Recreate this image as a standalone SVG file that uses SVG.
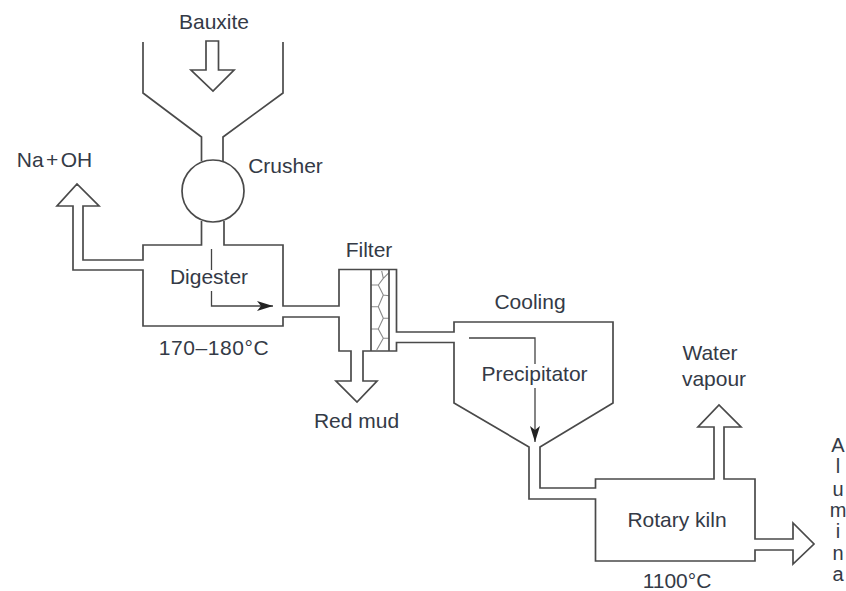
<svg xmlns="http://www.w3.org/2000/svg" width="846" height="591" viewBox="0 0 846 591">
<style>
.l{fill:none;stroke:#4a4a4a;stroke-width:1.7;stroke-linejoin:miter}
.thin{fill:none;stroke:#444;stroke-width:1.3}
.hex{fill:none;stroke:#8a8a8a;stroke-width:1.1}
text{font-family:"Liberation Sans",Arial,sans-serif;font-size:21px;fill:#343a46;text-anchor:middle}
.v{font-size:20px}
</style>
<defs><marker id="a" markerUnits="userSpaceOnUse" markerWidth="18" markerHeight="12" refX="16" refY="6" orient="auto"><path d="M0 1L16 6L0 11L4 6Z" fill="#222"/></marker></defs>
<rect width="846" height="591" fill="#fff"/>
<g id="connectors">
<path class="thin" d="M211.500 249V270M211.500 291V306H273" marker-end="url(#a)"/>
<path class="thin" d="M469 338H535V364M535 388V442" marker-end="url(#a)"/>
</g>
<g id="hopper"><path class="l" d="M143 42V93L201.500 137V161M283 42V93L223 137V161"/>
<path class="l" d="M206 41V70H191L213 91L234 70H218.500V41Z"/></g>
<g id="crusher"><circle class="l" cx="213" cy="191" r="31"/></g>
<g id="digester"><path class="l" d="M201.500 221V245H143V260H83V206H99L77 184L57 206H73V270H143V326H283V317H339V351H351V381H336L357 402L377 381H363V351H396.500V342.500H454V403L529 447V499H595.500V561H755V550H793V564L814 544L793 523V539H755V479H724V427H741L719 405L698 427H714V479H595.500V488H540V447L613 403V322H454V332H396.500V269.500H339V306H283V245H224V221"/></g>
<g id="filter"><path class="hex" d="M381.700 271L383.300 278.300L378.300 285H371M383.300 278.300L389 272.700M378.300 285L383.300 295L378.300 306.700H371M383.300 295L389 295.700M378.300 306.700L383.300 318.300L378.300 329H371M383.300 318.300H389M378.300 329L383.300 338.300L376.700 350M383.300 338.300H389"/>
<path class="l" d="M371 269.500V351M389 269.500V351"/></g>
<g id="labels">
<text x="214" y="29">Bauxite</text>
<text x="54.500" y="167" style="word-spacing:-3.500px">Na + OH</text>
<text x="285.500" y="173">Crusher</text>
<text x="209" y="284">Digester</text>
<text x="214" y="355" style="letter-spacing:.6px">170–180°C</text>
<text x="369" y="257">Filter</text>
<text x="356.500" y="428">Red mud</text>
<text x="530" y="309">Cooling</text>
<text x="534.500" y="381">Precipitator</text>
<text x="710" y="360">Water</text>
<text x="714" y="386">vapour</text>
<text x="677" y="527">Rotary kiln</text>
<text x="677" y="588">1100°C</text>
<text class="v" x="838" y="452">A</text><text class="v" x="838" y="473">l</text><text class="v" x="838" y="496">u</text><text class="v" x="838" y="517">m</text><text class="v" x="838" y="538">i</text><text class="v" x="838" y="560">n</text><text class="v" x="838" y="581">a</text>
</g>
</svg>
